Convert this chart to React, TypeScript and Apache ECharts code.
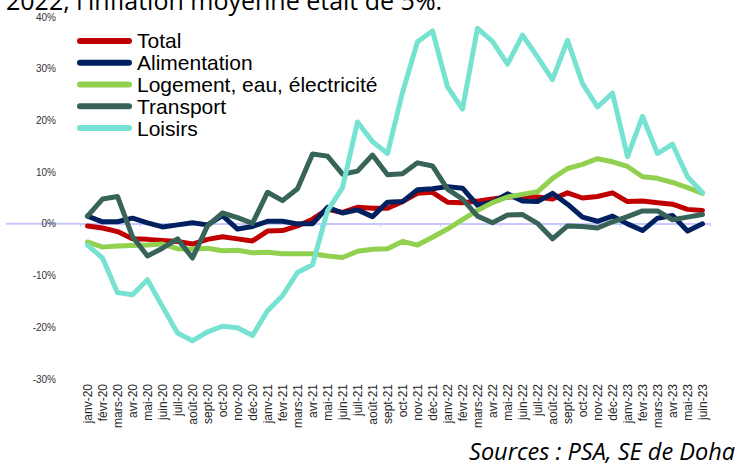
import React, { useEffect, useRef } from 'react';
import * as echarts from 'echarts';

const categories = [
  'janv-20', 'févr-20', 'mars-20', 'avr-20', 'mai-20', 'juin-20', 'juil-20', 'août-20', 'sept-20', 'oct-20', 'nov-20', 'déc-20',
  'janv-21', 'févr-21', 'mars-21', 'avr-21', 'mai-21', 'juin-21', 'juil-21', 'août-21', 'sept-21', 'oct-21', 'nov-21', 'déc-21',
  'janv-22', 'févr-22', 'mars-22', 'avr-22', 'mai-22', 'juin-22', 'juil-22', 'août-22', 'sept-22', 'oct-22', 'nov-22', 'déc-22',
  'janv-23', 'févr-23', 'mars-23', 'avr-23', 'mai-23', 'juin-23',
];

const total = [
  -0.4, -0.8, -1.5, -2.9, -3.0, -3.2, -3.4, -3.9, -3.0, -2.5, -2.9, -3.3,
  -1.4, -1.3, -0.4, 0.9, 2.8, 2.2, 3.2, 3.0, 3.0, 4.3, 5.9, 6.1,
  4.2, 4.1, 4.4, 4.8, 5.2, 5.3, 5.2, 4.8, 6.0, 5.0, 5.3, 6.0,
  4.3, 4.4, 4.1, 3.8, 2.8, 2.6,
];

const alimentation = [
  1.5, 0.4, 0.4, 1.1, 0.2, -0.6, -0.2, 0.2, -0.2, 1.6, -1.0, -0.5,
  0.5, 0.5, 0.0, 0.0, 3.2, 2.1, 2.7, 1.4, 4.2, 4.3, 6.6, 6.8,
  7.2, 6.9, 3.6, 4.2, 5.8, 4.4, 4.3, 5.9, 3.8, 1.3, 0.5, 1.5,
  0.0, -1.3, 1.1, 1.6, -1.4, 0.0,
];

const logement = [
  -3.5, -4.5, -4.3, -4.2, -4.1, -3.9, -4.8, -4.9, -4.7, -5.2, -5.1, -5.6,
  -5.5, -5.8, -5.8, -5.8, -6.2, -6.5, -5.3, -4.9, -4.8, -3.4, -4.1, -2.6,
  -1.0, 0.8, 2.6, 4.1, 5.2, 5.7, 6.2, 8.8, 10.7, 11.5, 12.6, 12.0,
  11.1, 9.1, 8.8, 8.0, 7.0, 5.9,
];

const transport = [
  1.5, 4.8, 5.3, -2.5, -6.2, -4.7, -2.9, -6.6, -0.4, 2.1, 1.2, 0.1,
  6.1, 4.5, 6.8, 13.5, 13.1, 9.6, 10.2, 13.3, 9.5, 9.7, 11.8, 11.2,
  6.7, 4.8, 1.5, 0.2, 1.7, 1.8, 0.1, -2.9, -0.4, -0.5, -0.8, 0.4,
  1.4, 2.5, 2.5, 0.8, 1.3, 1.8,
];

const loisirs = [
  -4.1, -6.6, -13.3, -13.7, -10.8, -16.0, -21.1, -22.6, -20.9, -19.8, -20.1, -21.6,
  -16.8, -13.9, -9.4, -7.9, 2.5, 7.0, 19.7, 15.9, 13.6, 25.4, 35.2, 37.3,
  26.5, 22.2, 37.8, 35.3, 30.9, 36.5, 32.3, 27.9, 35.5, 27.1, 22.6, 25.3,
  13.0, 20.8, 13.6, 15.4, 9.1, 6.0,
];

const seriesNames = ['Total', 'Alimentation', 'Logement, eau, électricité', 'Transport', 'Loisirs'];
const seriesColors = ['#C00000', '#002060', '#92D050', '#376359', '#76E2D1'];
const seriesData = [total, alimentation, logement, transport, loisirs];

const yTicks = { min: -30, max: 40, step: 10 };

const titleText = "2022, l'inflation moyenne était de 5%.";
const sourceText = 'Sources : PSA, SE de Doha';

export default function App() {
  const ref = useRef<HTMLDivElement>(null);

  useEffect(() => {
    const chart = echarts.init(ref.current as HTMLDivElement, null, { renderer: 'svg' });
    const gridTop = 17;
    const gridBottom = 85;
    const plotH = 464 - gridTop - gridBottom;
    const zeroY = gridTop + (plotH * yTicks.max) / (yTicks.max - yTicks.min);

    chart.setOption({
      animation: false,
      backgroundColor: '#ffffff',
      grid: { left: 80, right: 28, top: gridTop, bottom: gridBottom },
      legend: {
        orient: 'vertical',
        left: 72,
        top: 25,
        itemWidth: 55,
        itemHeight: 6,
        itemGap: 0,
        icon: 'path://M3 0H52A3 3 0 0 1 52 6H3A3 3 0 0 1 3 0Z',
        textStyle: { fontSize: 21, fontFamily: 'Liberation Sans', color: '#000', lineHeight: 21.8 },
        data: seriesNames,
      },
      xAxis: [
        {
          type: 'category',
          data: categories,
          boundaryGap: true,
          position: 'bottom',
          axisLine: { show: false, onZero: false },
          axisTick: { show: false },
          axisLabel: {
            rotate: 90,
            interval: 0,
            fontSize: 12,
            fontFamily: 'Liberation Sans',
            color: '#262626',
            margin: 5,
          },
          splitLine: { show: false },
        },
        {
          type: 'category',
          data: categories,
          boundaryGap: true,
          position: 'bottom',
          axisLine: { show: true, onZero: true, lineStyle: { color: '#C8C8FF', width: 2 } },
          axisTick: { show: true, length: 3, lineStyle: { color: '#C8C8FF', width: 1 } },
          axisLabel: { show: false },
          splitLine: { show: false },
        },
      ],
      yAxis: {
        type: 'value',
        min: yTicks.min,
        max: yTicks.max,
        interval: yTicks.step,
        axisLine: { show: false },
        axisTick: { show: false },
        splitLine: { show: false },
        axisLabel: {
          formatter: '{value}%',
          fontSize: 10,
          fontFamily: 'Liberation Sans',
          color: '#333',
          margin: 24,
        },
      },
      graphic: [
        {
          type: 'line',
          z: -1,
          shape: { x1: 6, y1: zeroY, x2: 80, y2: zeroY },
          style: { stroke: '#C8C8FF', lineWidth: 2 },
        },
        {
          type: 'text',
          left: 6,
          top: -13,
          style: { text: titleText, fontSize: 25, fontFamily: 'Open Sans', fill: '#000' },
        },
        {
          type: 'text',
          right: 3,
          top: 439,
          style: { text: sourceText, fontSize: 23.5, fontStyle: 'italic', fontFamily: 'Open Sans', fill: '#000' },
        },
      ],
      series: seriesNames.map((name, i) => ({
        name,
        type: 'line',
        data: seriesData[i],
        symbol: 'none',
        lineStyle: { width: 5, color: seriesColors[i], cap: 'round', join: 'round' },
        itemStyle: { color: seriesColors[i] },
        z: 2 + i,
      })),
    });

    return () => chart.dispose();
  }, []);

  return (
    <div
      ref={ref}
      style={{ position: 'fixed', left: 0, top: 0, width: 738, height: 464, background: '#fff' }}
    />
  );
}
